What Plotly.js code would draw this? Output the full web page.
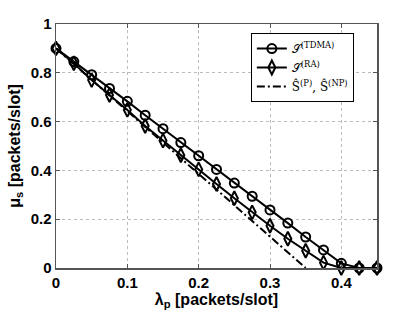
<!DOCTYPE html>
<html>
<head>
<meta charset="utf-8">
<script src="https://cdn.plot.ly/plotly-3.0.1.min.js"></script>
<style>html,body{margin:0;padding:0;background:#fff;}#chart{width:415px;height:314px;}</style>
</head>
<body>
<div id="chart"></div>
<script>
const lambdaP = [0, 0.025, 0.05, 0.075, 0.1, 0.125, 0.15, 0.175, 0.2, 0.225, 0.25, 0.275, 0.3, 0.325, 0.35, 0.375, 0.4, 0.425, 0.45];
const muTDMA = [0.9, 0.846, 0.792, 0.736, 0.683, 0.626, 0.571, 0.514, 0.460, 0.404, 0.348, 0.294, 0.238, 0.184, 0.127, 0.074, 0.019, 0, 0];
const muRA = [0.9, 0.839, 0.770, 0.709, 0.648, 0.582, 0.522, 0.462, 0.404, 0.344, 0.286, 0.228, 0.173, 0.120, 0.071, 0.022, 0, 0, 0];
const lambdaBound = [0, 0.025, 0.05, 0.075, 0.1, 0.125, 0.15, 0.175, 0.2, 0.225, 0.25, 0.275, 0.3, 0.325, 0.35];
const muBound = [0.9, 0.836, 0.772, 0.708, 0.644, 0.580, 0.515, 0.451, 0.388, 0.323, 0.259, 0.193, 0.129, 0.064, 0];
const seriesNames = ['𝒮<sup>(TDMA)</sup>', '𝒮<sup>(RA)</sup>', 'Ŝ<sup>(P)</sup>, Ŝ<sup>(NP)</sup>'];
const xTicks = [0, 0.1, 0.2, 0.3, 0.4];
const yTicks = [0, 0.2, 0.4, 0.6, 0.8, 1];

const traces = [
  {x: lambdaP, y: muTDMA, name: seriesNames[0], type: 'scatter', mode: 'lines+markers', cliponaxis: false,
   line: {color: '#000', width: 2},
   marker: {symbol: 'circle-open', size: 9, color: '#000', line: {width: 2}}},
  {x: lambdaP, y: muRA, name: seriesNames[1], type: 'scatter', mode: 'lines+markers', cliponaxis: false,
   line: {color: '#000', width: 2},
   marker: {symbol: 'diamond-tall-open', size: 10, color: '#000', line: {width: 2}}},
  {x: lambdaBound, y: muBound, name: seriesNames[2], type: 'scatter', mode: 'lines', cliponaxis: false,
   line: {color: '#000', width: 2, dash: '8px,3px,2px,3px'}}
];

const axisCommon = {
  showline: true, mirror: 'ticks', linecolor: '#555', linewidth: 1.5,
  ticks: 'inside', ticklen: 4, tickcolor: '#555',
  showgrid: true, gridcolor: '#bbb', griddash: 'dot', gridwidth: 1,
  zeroline: false,
  tickfont: {family: 'Liberation Sans, Arial, sans-serif', size: 15, color: '#000', weight: 'bold'}
};

const layout = {
  width: 415, height: 314,
  margin: {l: 56, r: 38, t: 24, b: 46},
  paper_bgcolor: '#fff', plot_bgcolor: '#fff',
  showlegend: true,
  legend: {x: 0.607, y: 0.963, xanchor: 'left', yanchor: 'top',
    bordercolor: '#000', borderwidth: 1, bgcolor: '#fff',
    font: {family: 'DejaVu Serif, Liberation Serif, serif', size: 12, color: '#000'},
    tracegroupgap: 0},
  xaxis: Object.assign({}, axisCommon, {
    range: [0, 0.45], tickvals: xTicks, ticktext: xTicks.map(String),
    title: {text: 'λ<sub>p</sub> [packets/slot]', standoff: 4,
      font: {family: 'Liberation Sans, Arial, sans-serif', size: 16, color: '#000', weight: 'bold'}}
  }),
  yaxis: Object.assign({}, axisCommon, {
    range: [0, 1], tickvals: yTicks, ticktext: yTicks.map(String),
    title: {text: 'μ<sub>s</sub> [packets/slot]', standoff: 6,
      font: {family: 'Liberation Sans, Arial, sans-serif', size: 16, color: '#000', weight: 'bold'}}
  })
};

Plotly.newPlot('chart', traces, layout, {displayModeBar: false, staticPlot: true});
</script>
</body>
</html>
